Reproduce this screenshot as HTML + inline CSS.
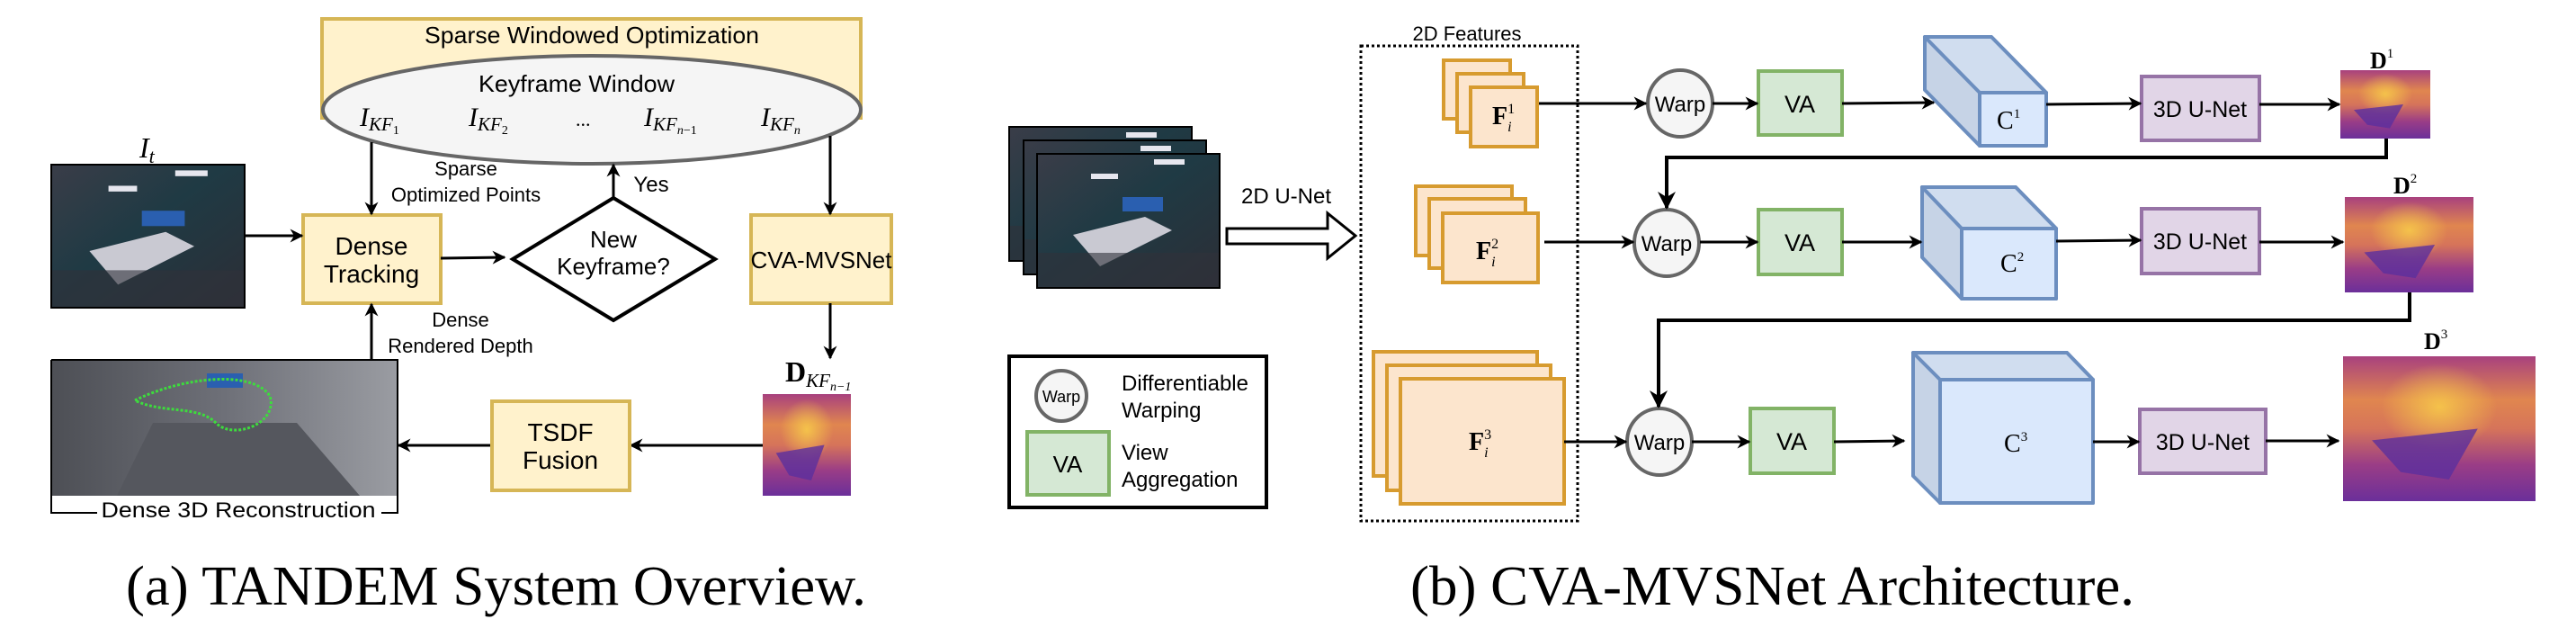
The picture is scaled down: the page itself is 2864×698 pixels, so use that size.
<!DOCTYPE html>
<html><head><meta charset="utf-8"><style>
html,body{margin:0;padding:0;background:#fff;}
svg{display:block;}
.s{font-family:"Liberation Sans",sans-serif;fill:#000;}
.r{font-family:"Liberation Serif",serif;fill:#000;}
</style></head><body>
<svg width="2864" height="698" viewBox="0 0 2864 698" xmlns="http://www.w3.org/2000/svg">
<defs>
<marker id="ah" viewBox="0 0 10 10" refX="9" refY="5" markerWidth="5" markerHeight="5" orient="auto" markerUnits="strokeWidth">
<path d="M0,0 L10,5 L0,10 L3,5 z" fill="#000"/></marker>
<linearGradient id="dep" x1="0" y1="0" x2="0" y2="1">
<stop offset="0" stop-color="#a8417e"/><stop offset="0.3" stop-color="#e0864f"/><stop offset="0.5" stop-color="#d6745a"/><stop offset="0.75" stop-color="#9a3d86"/><stop offset="1" stop-color="#6b2f9a"/></linearGradient>
<radialGradient id="glow" cx="0.5" cy="0.35" r="0.3"><stop offset="0" stop-color="#f7c94a" stop-opacity="0.9"/><stop offset="1" stop-color="#f7c94a" stop-opacity="0"/></radialGradient>
<linearGradient id="room" x1="0" y1="0" x2="1" y2="1">
<stop offset="0" stop-color="#3a3d48"/><stop offset="0.45" stop-color="#1f3a44"/><stop offset="1" stop-color="#2c2e36"/></linearGradient>
<linearGradient id="rec" x1="0" y1="0" x2="1" y2="0">
<stop offset="0" stop-color="#4d4f55"/><stop offset="0.5" stop-color="#6e7078"/><stop offset="1" stop-color="#9a9ca2"/></linearGradient>
<g id="roomimg">
<rect width="203" height="149" fill="url(#room)"/>
<polygon points="40,90 120,70 150,85 70,125" fill="#c9c9d2"/>
<rect x="95" y="48" width="45" height="16" fill="#2a5fb0"/>
<rect x="60" y="22" width="30" height="6" fill="#e6e6ee"/>
<rect x="130" y="6" width="34" height="6" fill="#e6e6ee"/>
<rect x="0" y="110" width="203" height="39" fill="#30323a" opacity="0.6"/>
</g>
<g id="depimg"><rect width="1" height="1" fill="url(#dep)"/><rect width="1" height="1" fill="url(#glow)"/>
<polygon points="0.15,0.58 0.7,0.5 0.55,0.85 0.3,0.8" fill="#5b2f9e" opacity="0.8"/></g>
</defs>

<!-- ===== Panel (a) ===== -->
<rect x="358" y="21" width="599" height="110" fill="#fff2cc" stroke="#d6b656" stroke-width="4"/>
<text class="s" x="658" y="48" font-size="26" text-anchor="middle" textLength="372" lengthAdjust="spacingAndGlyphs">Sparse Windowed Optimization</text>
<ellipse cx="658" cy="122" rx="299" ry="60" fill="#f5f5f5" stroke="#666" stroke-width="4"/>
<text class="s" x="641" y="102" font-size="26" text-anchor="middle" textLength="218" lengthAdjust="spacingAndGlyphs">Keyframe Window</text>
<g class="r" font-size="30" font-style="italic">
<text x="400" y="140">I<tspan font-size="21" dy="5">KF</tspan><tspan font-size="14" dy="4" font-style="normal">1</tspan></text>
<text x="521" y="140">I<tspan font-size="21" dy="5">KF</tspan><tspan font-size="14" dy="4" font-style="normal">2</tspan></text>
<text x="640" y="140" font-style="normal" font-size="22">...</text>
<text x="716" y="140">I<tspan font-size="21" dy="5">KF</tspan><tspan font-size="14" dy="4">n</tspan><tspan font-size="14" font-style="normal">−1</tspan></text>
<text x="846" y="140">I<tspan font-size="21" dy="5">KF</tspan><tspan font-size="14" dy="4">n</tspan></text>
</g>
<!-- I_t image -->
<text class="r" x="155" y="175" font-size="32" font-style="italic">I<tspan font-size="22" dy="6">t</tspan></text>
<use href="#roomimg" transform="translate(57,183) scale(1.06,1.067)"/>
<rect x="57" y="183" width="215" height="159" fill="none" stroke="#000" stroke-width="2"/>
<!-- Dense tracking -->
<rect x="337" y="239" width="153" height="98" fill="#fff2cc" stroke="#d6b656" stroke-width="4"/>
<text class="s" x="413" y="283" font-size="28" text-anchor="middle">Dense</text>
<text class="s" x="413" y="314" font-size="28" text-anchor="middle">Tracking</text>
<!-- Diamond -->
<polygon points="682,220 795,288 682,356 570,288" fill="#fff" stroke="#000" stroke-width="4"/>
<text class="s" x="682" y="275" font-size="26" text-anchor="middle">New</text>
<text class="s" x="682" y="305" font-size="26" text-anchor="middle">Keyframe?</text>
<!-- CVA-MVSNet -->
<rect x="835" y="239" width="156" height="98" fill="#fff2cc" stroke="#d6b656" stroke-width="4"/>
<text class="s" x="913" y="298" font-size="26" text-anchor="middle">CVA-MVSNet</text>
<!-- arrows a -->
<g stroke="#000" stroke-width="3" fill="none" marker-end="url(#ah)">
<line x1="413" y1="158" x2="413" y2="238"/>
<line x1="682" y1="220" x2="682" y2="183"/>
<line x1="923" y1="151" x2="923" y2="238"/>
<line x1="923" y1="337" x2="923" y2="398"/>
<line x1="272" y1="262" x2="336" y2="262"/>
<line x1="490" y1="287" x2="561" y2="286"/>
<line x1="848" y1="495" x2="701" y2="495"/>
<line x1="547" y1="495" x2="443" y2="495"/>
<line x1="413" y1="400" x2="413" y2="338"/>
</g>
<text class="s" x="518" y="195" font-size="22" text-anchor="middle">Sparse</text>
<text class="s" x="518" y="224" font-size="22" text-anchor="middle">Optimized Points</text>
<text class="s" x="724" y="213" font-size="24" text-anchor="middle">Yes</text>
<text class="s" x="512" y="363" font-size="22" text-anchor="middle">Dense</text>
<text class="s" x="512" y="392" font-size="22" text-anchor="middle">Rendered Depth</text>
<!-- D_KF -->
<text class="r" x="873" y="424" font-size="32" font-weight="bold">D<tspan font-weight="normal" font-style="italic" font-size="21" dy="6">KF</tspan><tspan font-style="italic" font-size="14" dy="4" font-weight="normal">n−1</tspan></text>
<use href="#depimg" transform="translate(848,438) scale(98,113)"/>
<!-- TSDF -->
<rect x="547" y="446" width="153" height="99" fill="#fff2cc" stroke="#d6b656" stroke-width="4"/>
<text class="s" x="623" y="490" font-size="28" text-anchor="middle">TSDF</text>
<text class="s" x="623" y="521" font-size="28" text-anchor="middle">Fusion</text>
<!-- Reconstruction -->
<rect x="57" y="400" width="385" height="151" fill="url(#rec)"/>
<polygon points="130,551 170,470 330,470 400,551" fill="#55575e"/>
<rect x="230" y="415" width="40" height="16" fill="#2a5fb0"/>
<path d="M150,445 C200,420 280,410 300,440 C310,470 260,490 240,470 C220,450 180,460 150,445" fill="none" stroke="#3ddc3d" stroke-width="3" stroke-dasharray="3 2"/>
<path d="M57,400 H442 V570 H424 M57,400 V570 H108" fill="none" stroke="#000" stroke-width="2"/>
<text class="s" x="265" y="575" font-size="24" text-anchor="middle" textLength="305" lengthAdjust="spacingAndGlyphs">Dense 3D Reconstruction</text>
<text class="r" x="140" y="672" font-size="62" textLength="823" lengthAdjust="spacingAndGlyphs">(a) TANDEM System Overview.</text>

<!-- ===== Panel (b) ===== -->
<use href="#roomimg" transform="translate(1122,141)"/>
<rect x="1122" y="141" width="203" height="149" fill="none" stroke="#000" stroke-width="2"/>
<use href="#roomimg" transform="translate(1138,156)"/>
<rect x="1138" y="156" width="203" height="149" fill="none" stroke="#000" stroke-width="2"/>
<use href="#roomimg" transform="translate(1153,171)"/>
<rect x="1153" y="171" width="203" height="149" fill="none" stroke="#000" stroke-width="2"/>
<text class="s" x="1430" y="226" font-size="24" text-anchor="middle">2D U-Net</text>
<polygon points="1364,254 1476,254 1476,237 1507,262 1476,287 1476,271 1364,271" fill="#fff" stroke="#000" stroke-width="3"/>
<!-- legend -->
<rect x="1122" y="396" width="286" height="168" fill="#fff" stroke="#000" stroke-width="4"/>
<circle cx="1180" cy="440" r="28" fill="#f5f5f5" stroke="#666" stroke-width="4"/>
<text class="s" x="1180" y="447" font-size="18" text-anchor="middle">Warp</text>
<rect x="1142" y="480" width="91" height="70" fill="#d5e8d4" stroke="#82b366" stroke-width="4"/>
<text class="s" x="1187" y="525" font-size="26" text-anchor="middle">VA</text>
<text class="s" x="1247" y="434" font-size="24">Differentiable</text>
<text class="s" x="1247" y="464" font-size="24">Warping</text>
<text class="s" x="1247" y="511" font-size="24">View</text>
<text class="s" x="1247" y="541" font-size="24">Aggregation</text>
<!-- dashed features -->
<rect x="1513" y="51" width="241" height="528" fill="none" stroke="#000" stroke-width="3" stroke-dasharray="3 3"/>
<text class="s" x="1631" y="45" font-size="22" text-anchor="middle">2D Features</text>
<g fill="#fce5cd" stroke="#d79b2f" stroke-width="4">
<rect x="1605" y="67" width="74" height="65"/><rect x="1620" y="82" width="74" height="65"/><rect x="1635" y="97" width="74" height="66"/>
<rect x="1574" y="207" width="107" height="77"/><rect x="1589" y="221" width="107" height="77"/><rect x="1604" y="237" width="106" height="77"/>
<rect x="1527" y="391" width="182" height="138"/><rect x="1542" y="406" width="182" height="139"/><rect x="1557" y="421" width="182" height="139"/>
</g>
<g class="r" font-size="28" font-weight="bold">
<text x="1659" y="138">F<tspan font-size="16" font-weight="normal" dy="-12">1</tspan><tspan font-size="16" font-weight="normal" font-style="italic" dx="-8" dy="20">i</tspan></text>
<text x="1641" y="288">F<tspan font-size="16" font-weight="normal" dy="-12">2</tspan><tspan font-size="16" font-weight="normal" font-style="italic" dx="-8" dy="20">i</tspan></text>
<text x="1633" y="500">F<tspan font-size="16" font-weight="normal" dy="-12">3</tspan><tspan font-size="16" font-weight="normal" font-style="italic" dx="-8" dy="20">i</tspan></text>
</g>
<!-- warps -->
<g fill="#f5f5f5" stroke="#666" stroke-width="4">
<ellipse cx="1868" cy="115" rx="36" ry="37"/><ellipse cx="1853" cy="270" rx="36" ry="37"/><ellipse cx="1845" cy="491" rx="36" ry="37"/>
</g>
<g class="s" font-size="24" text-anchor="middle">
<text x="1868" y="124">Warp</text><text x="1853" y="279">Warp</text><text x="1845" y="500">Warp</text>
</g>
<!-- VA -->
<g fill="#d5e8d4" stroke="#82b366" stroke-width="4">
<rect x="1955" y="79" width="93" height="71"/><rect x="1955" y="233" width="93" height="72"/><rect x="1946" y="454" width="93" height="72"/>
</g>
<g class="s" font-size="27" text-anchor="middle">
<text x="2001" y="125">VA</text><text x="2001" y="279">VA</text><text x="1992" y="500">VA</text>
</g>
<!-- cubes -->
<g stroke="#6c8ebf" stroke-width="4" stroke-linejoin="round">
<polygon points="2140,41 2214,41 2275,103 2275,162 2201,162 2140,100" fill="#c6d3e6"/>
<polygon points="2140,41 2214,41 2275,103 2201,103" fill="#d0ddef"/>
<rect x="2201" y="103" width="74" height="59" fill="#dae8fc"/>
<polygon points="2137,208 2241,208 2286,254 2286,332 2181,332 2137,286" fill="#c6d3e6"/>
<polygon points="2137,208 2241,208 2286,254 2181,254" fill="#d0ddef"/>
<rect x="2181" y="254" width="105" height="78" fill="#dae8fc"/>
<polygon points="2127,392 2298,392 2327,422 2327,559 2157,559 2127,529" fill="#c6d3e6"/>
<polygon points="2127,392 2298,392 2327,422 2157,422" fill="#d0ddef"/>
<rect x="2157" y="422" width="170" height="137" fill="#dae8fc"/>
</g>
<g class="r" font-size="28">
<text x="2220" y="143">C<tspan font-size="15" dy="-12">1</tspan></text>
<text x="2224" y="302">C<tspan font-size="15" dy="-12">2</tspan></text>
<text x="2228" y="502">C<tspan font-size="15" dy="-12">3</tspan></text>
</g>
<!-- 3D U-Net -->
<g fill="#e1d5e7" stroke="#9673a6" stroke-width="4">
<rect x="2381" y="85" width="131" height="71"/><rect x="2381" y="232" width="131" height="72"/><rect x="2379" y="455" width="140" height="71"/>
</g>
<g class="s" font-size="25" text-anchor="middle">
<text x="2446" y="130">3D U-Net</text><text x="2446" y="277">3D U-Net</text><text x="2449" y="500">3D U-Net</text>
</g>
<!-- depth maps -->
<use href="#depimg" transform="translate(2602,78) scale(100,76)"/>
<use href="#depimg" transform="translate(2607,219) scale(143,106)"/>
<use href="#depimg" transform="translate(2605,396) scale(214,161)"/>
<g class="r" font-size="26" font-weight="bold">
<text x="2635" y="76">D<tspan font-size="15" font-weight="normal" dy="-12">1</tspan></text>
<text x="2661" y="215">D<tspan font-size="15" font-weight="normal" dy="-12">2</tspan></text>
<text x="2695" y="388">D<tspan font-size="15" font-weight="normal" dy="-12">3</tspan></text>
</g>
<!-- arrows b -->
<g stroke="#000" stroke-width="3" fill="none" marker-end="url(#ah)">
<line x1="1711" y1="115" x2="1830" y2="115"/>
<line x1="1904" y1="115" x2="1954" y2="115"/>
<line x1="2048" y1="115" x2="2150" y2="114"/>
<line x1="2275" y1="116" x2="2380" y2="115"/>
<line x1="2512" y1="116" x2="2601" y2="116"/>
<line x1="1717" y1="269" x2="1816" y2="269"/>
<line x1="1890" y1="269" x2="1954" y2="269"/>
<line x1="2048" y1="269" x2="2136" y2="269"/>
<line x1="2286" y1="268" x2="2380" y2="267"/>
<line x1="2512" y1="269" x2="2605" y2="269"/>
<line x1="1739" y1="491" x2="1808" y2="491"/>
<line x1="1881" y1="491" x2="1945" y2="491"/>
<line x1="2039" y1="491" x2="2117" y2="490"/>
<line x1="2327" y1="491" x2="2378" y2="491"/>
<line x1="2519" y1="490" x2="2600" y2="490"/>
</g>
<g stroke="#000" stroke-width="4" fill="none" marker-end="url(#ah)">
<path d="M2653,154 V175 H1853 V231"/>
<path d="M2679,325 V356 H1844 V452"/>
</g>
<text class="r" x="1568" y="672" font-size="62" textLength="805" lengthAdjust="spacingAndGlyphs">(b) CVA-MVSNet Architecture.</text>
</svg>
</body></html>
